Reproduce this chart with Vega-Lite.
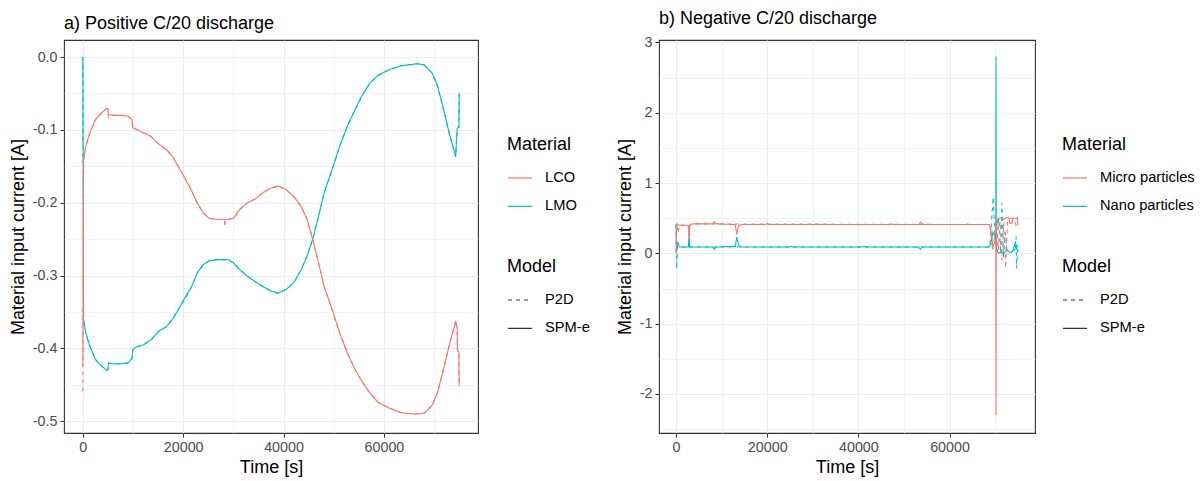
{
  "$schema": "https://vega.github.io/schema/vega-lite/v6.json",
  "background": "white",
  "padding": {"left": 8, "top": 9, "right": 0, "bottom": 0},
  "spacing": 24,
  "config": {
    "font": "Liberation Sans",
    "view": {"stroke": "#333333", "strokeWidth": 1.1},
    "axis": {
      "domain": false,
      "grid": true,
      "gridColor": "#ebebeb",
      "tickColor": "#333333",
      "tickSize": 4,
      "tickWidth": 1,
      "labelColor": "#4d4d4d",
      "labelFontSize": 14.3,
      "labelPadding": 3,
      "titleFontSize": 18,
      "titleFontWeight": "normal",
      "titleColor": "#000000"
    },
    "legend": {
      "orient": "none",
      "padding": 0,
      "titleFontSize": 18,
      "titleFontWeight": "normal",
      "titleColor": "#000000",
      "titlePadding": 11,
      "labelFontSize": 14.7,
      "labelColor": "#000000",
      "labelOffset": 12,
      "symbolType": "stroke",
      "symbolSize": 576,
      "symbolStrokeWidth": 1.2,
      "rowPadding": 8.3
    },
    "title": {"fontSize": 18, "fontWeight": "normal", "color": "#000000", "anchor": "start", "frame": "group", "offset": 7}
  },
  "resolve": {"scale": {"color": "independent", "strokeDash": "independent"}},
  "hconcat": [
    {
      "width": 414,
      "height": 393,
      "title": "a) Positive C/20 discharge",
      "data": {"values": [
        {"Material": "LMO", "Model": "P2D", "Time": 0, "Current": 0.0},
        {"Material": "LMO", "Model": "P2D", "Time": 150, "Current": -0.360},
        {"Material": "LMO", "Model": "P2D", "Time": 600, "Current": -0.379},
        {"Material": "LMO", "Model": "P2D", "Time": 1400, "Current": -0.397},
        {"Material": "LMO", "Model": "P2D", "Time": 2500, "Current": -0.415},
        {"Material": "LMO", "Model": "P2D", "Time": 3700, "Current": -0.424},
        {"Material": "LMO", "Model": "P2D", "Time": 4800, "Current": -0.430},
        {"Material": "LMO", "Model": "P2D", "Time": 5000, "Current": -0.429},
        {"Material": "LMO", "Model": "P2D", "Time": 5100, "Current": -0.420},
        {"Material": "LMO", "Model": "P2D", "Time": 6000, "Current": -0.421},
        {"Material": "LMO", "Model": "P2D", "Time": 7500, "Current": -0.421},
        {"Material": "LMO", "Model": "P2D", "Time": 9000, "Current": -0.420},
        {"Material": "LMO", "Model": "P2D", "Time": 9650, "Current": -0.415},
        {"Material": "LMO", "Model": "P2D", "Time": 9800, "Current": -0.414},
        {"Material": "LMO", "Model": "P2D", "Time": 9950, "Current": -0.402},
        {"Material": "LMO", "Model": "P2D", "Time": 10600, "Current": -0.398},
        {"Material": "LMO", "Model": "P2D", "Time": 12100, "Current": -0.395},
        {"Material": "LMO", "Model": "P2D", "Time": 13600, "Current": -0.388},
        {"Material": "LMO", "Model": "P2D", "Time": 15200, "Current": -0.376},
        {"Material": "LMO", "Model": "P2D", "Time": 16700, "Current": -0.370},
        {"Material": "LMO", "Model": "P2D", "Time": 17850, "Current": -0.360},
        {"Material": "LMO", "Model": "P2D", "Time": 19000, "Current": -0.347},
        {"Material": "LMO", "Model": "P2D", "Time": 20500, "Current": -0.331},
        {"Material": "LMO", "Model": "P2D", "Time": 21700, "Current": -0.315},
        {"Material": "LMO", "Model": "P2D", "Time": 22800, "Current": -0.296},
        {"Material": "LMO", "Model": "P2D", "Time": 24000, "Current": -0.285},
        {"Material": "LMO", "Model": "P2D", "Time": 25100, "Current": -0.280},
        {"Material": "LMO", "Model": "P2D", "Time": 26700, "Current": -0.278},
        {"Material": "LMO", "Model": "P2D", "Time": 29000, "Current": -0.278},
        {"Material": "LMO", "Model": "P2D", "Time": 30100, "Current": -0.283},
        {"Material": "LMO", "Model": "P2D", "Time": 31300, "Current": -0.292},
        {"Material": "LMO", "Model": "P2D", "Time": 32800, "Current": -0.301},
        {"Material": "LMO", "Model": "P2D", "Time": 34300, "Current": -0.308},
        {"Material": "LMO", "Model": "P2D", "Time": 35900, "Current": -0.315},
        {"Material": "LMO", "Model": "P2D", "Time": 37400, "Current": -0.321},
        {"Material": "LMO", "Model": "P2D", "Time": 38900, "Current": -0.324},
        {"Material": "LMO", "Model": "P2D", "Time": 40500, "Current": -0.319},
        {"Material": "LMO", "Model": "P2D", "Time": 42000, "Current": -0.310},
        {"Material": "LMO", "Model": "P2D", "Time": 43500, "Current": -0.292},
        {"Material": "LMO", "Model": "P2D", "Time": 44700, "Current": -0.273},
        {"Material": "LMO", "Model": "P2D", "Time": 45800, "Current": -0.250},
        {"Material": "LMO", "Model": "P2D", "Time": 47000, "Current": -0.218},
        {"Material": "LMO", "Model": "P2D", "Time": 48100, "Current": -0.186},
        {"Material": "LMO", "Model": "P2D", "Time": 49700, "Current": -0.154},
        {"Material": "LMO", "Model": "P2D", "Time": 51200, "Current": -0.122},
        {"Material": "LMO", "Model": "P2D", "Time": 52700, "Current": -0.095},
        {"Material": "LMO", "Model": "P2D", "Time": 54250, "Current": -0.072},
        {"Material": "LMO", "Model": "P2D", "Time": 55800, "Current": -0.051},
        {"Material": "LMO", "Model": "P2D", "Time": 57300, "Current": -0.035},
        {"Material": "LMO", "Model": "P2D", "Time": 58850, "Current": -0.025},
        {"Material": "LMO", "Model": "P2D", "Time": 61150, "Current": -0.017},
        {"Material": "LMO", "Model": "P2D", "Time": 63450, "Current": -0.012},
        {"Material": "LMO", "Model": "P2D", "Time": 65750, "Current": -0.010},
        {"Material": "LMO", "Model": "P2D", "Time": 66600, "Current": -0.009},
        {"Material": "LMO", "Model": "P2D", "Time": 68050, "Current": -0.011},
        {"Material": "LMO", "Model": "P2D", "Time": 69600, "Current": -0.022},
        {"Material": "LMO", "Model": "P2D", "Time": 70700, "Current": -0.040},
        {"Material": "LMO", "Model": "P2D", "Time": 71900, "Current": -0.072},
        {"Material": "LMO", "Model": "P2D", "Time": 73000, "Current": -0.104},
        {"Material": "LMO", "Model": "P2D", "Time": 74200, "Current": -0.134},
        {"Material": "LMO", "Model": "P2D", "Time": 74300, "Current": -0.137},
        {"Material": "LMO", "Model": "P2D", "Time": 74600, "Current": -0.098},
        {"Material": "LMO", "Model": "P2D", "Time": 74950, "Current": -0.096},
        {"Material": "LMO", "Model": "P2D", "Time": 75000, "Current": -0.050},

        {"Material": "LMO", "Model": "SPM-e", "Time": 0, "Current": 0.0},
        {"Material": "LMO", "Model": "SPM-e", "Time": 150, "Current": -0.360},
        {"Material": "LMO", "Model": "SPM-e", "Time": 600, "Current": -0.379},
        {"Material": "LMO", "Model": "SPM-e", "Time": 1400, "Current": -0.397},
        {"Material": "LMO", "Model": "SPM-e", "Time": 2500, "Current": -0.415},
        {"Material": "LMO", "Model": "SPM-e", "Time": 3700, "Current": -0.424},
        {"Material": "LMO", "Model": "SPM-e", "Time": 4800, "Current": -0.430},
        {"Material": "LMO", "Model": "SPM-e", "Time": 5000, "Current": -0.429},
        {"Material": "LMO", "Model": "SPM-e", "Time": 5100, "Current": -0.420},
        {"Material": "LMO", "Model": "SPM-e", "Time": 6000, "Current": -0.421},
        {"Material": "LMO", "Model": "SPM-e", "Time": 7500, "Current": -0.421},
        {"Material": "LMO", "Model": "SPM-e", "Time": 9000, "Current": -0.420},
        {"Material": "LMO", "Model": "SPM-e", "Time": 9650, "Current": -0.415},
        {"Material": "LMO", "Model": "SPM-e", "Time": 9800, "Current": -0.414},
        {"Material": "LMO", "Model": "SPM-e", "Time": 9950, "Current": -0.402},
        {"Material": "LMO", "Model": "SPM-e", "Time": 10600, "Current": -0.398},
        {"Material": "LMO", "Model": "SPM-e", "Time": 12100, "Current": -0.395},
        {"Material": "LMO", "Model": "SPM-e", "Time": 13600, "Current": -0.388},
        {"Material": "LMO", "Model": "SPM-e", "Time": 15200, "Current": -0.376},
        {"Material": "LMO", "Model": "SPM-e", "Time": 16700, "Current": -0.370},
        {"Material": "LMO", "Model": "SPM-e", "Time": 17850, "Current": -0.360},
        {"Material": "LMO", "Model": "SPM-e", "Time": 19000, "Current": -0.347},
        {"Material": "LMO", "Model": "SPM-e", "Time": 20500, "Current": -0.328},
        {"Material": "LMO", "Model": "SPM-e", "Time": 21700, "Current": -0.315},
        {"Material": "LMO", "Model": "SPM-e", "Time": 22800, "Current": -0.296},
        {"Material": "LMO", "Model": "SPM-e", "Time": 24000, "Current": -0.285},
        {"Material": "LMO", "Model": "SPM-e", "Time": 25100, "Current": -0.280},
        {"Material": "LMO", "Model": "SPM-e", "Time": 26700, "Current": -0.278},
        {"Material": "LMO", "Model": "SPM-e", "Time": 29000, "Current": -0.278},
        {"Material": "LMO", "Model": "SPM-e", "Time": 30100, "Current": -0.283},
        {"Material": "LMO", "Model": "SPM-e", "Time": 31300, "Current": -0.292},
        {"Material": "LMO", "Model": "SPM-e", "Time": 32800, "Current": -0.301},
        {"Material": "LMO", "Model": "SPM-e", "Time": 34300, "Current": -0.308},
        {"Material": "LMO", "Model": "SPM-e", "Time": 35900, "Current": -0.315},
        {"Material": "LMO", "Model": "SPM-e", "Time": 37400, "Current": -0.321},
        {"Material": "LMO", "Model": "SPM-e", "Time": 38900, "Current": -0.324},
        {"Material": "LMO", "Model": "SPM-e", "Time": 40500, "Current": -0.319},
        {"Material": "LMO", "Model": "SPM-e", "Time": 42000, "Current": -0.310},
        {"Material": "LMO", "Model": "SPM-e", "Time": 43500, "Current": -0.292},
        {"Material": "LMO", "Model": "SPM-e", "Time": 44700, "Current": -0.273},
        {"Material": "LMO", "Model": "SPM-e", "Time": 45800, "Current": -0.250},
        {"Material": "LMO", "Model": "SPM-e", "Time": 47000, "Current": -0.218},
        {"Material": "LMO", "Model": "SPM-e", "Time": 48100, "Current": -0.186},
        {"Material": "LMO", "Model": "SPM-e", "Time": 49700, "Current": -0.154},
        {"Material": "LMO", "Model": "SPM-e", "Time": 51200, "Current": -0.122},
        {"Material": "LMO", "Model": "SPM-e", "Time": 52700, "Current": -0.095},
        {"Material": "LMO", "Model": "SPM-e", "Time": 54250, "Current": -0.072},
        {"Material": "LMO", "Model": "SPM-e", "Time": 55800, "Current": -0.051},
        {"Material": "LMO", "Model": "SPM-e", "Time": 57300, "Current": -0.035},
        {"Material": "LMO", "Model": "SPM-e", "Time": 58850, "Current": -0.025},
        {"Material": "LMO", "Model": "SPM-e", "Time": 61150, "Current": -0.017},
        {"Material": "LMO", "Model": "SPM-e", "Time": 63450, "Current": -0.012},
        {"Material": "LMO", "Model": "SPM-e", "Time": 65750, "Current": -0.010},
        {"Material": "LMO", "Model": "SPM-e", "Time": 66600, "Current": -0.009},
        {"Material": "LMO", "Model": "SPM-e", "Time": 68050, "Current": -0.011},
        {"Material": "LMO", "Model": "SPM-e", "Time": 69600, "Current": -0.022},
        {"Material": "LMO", "Model": "SPM-e", "Time": 70700, "Current": -0.040},
        {"Material": "LMO", "Model": "SPM-e", "Time": 71900, "Current": -0.072},
        {"Material": "LMO", "Model": "SPM-e", "Time": 73000, "Current": -0.104},
        {"Material": "LMO", "Model": "SPM-e", "Time": 74200, "Current": -0.134},
        {"Material": "LMO", "Model": "SPM-e", "Time": 74300, "Current": -0.137},
        {"Material": "LMO", "Model": "SPM-e", "Time": 74600, "Current": -0.098},
        {"Material": "LMO", "Model": "SPM-e", "Time": 74950, "Current": -0.096},
        {"Material": "LMO", "Model": "SPM-e", "Time": 75000, "Current": -0.050},

        {"Material": "LCO", "Model": "P2D", "Time": 0, "Current": -0.459},
        {"Material": "LCO", "Model": "P2D", "Time": 150, "Current": -0.141},
        {"Material": "LCO", "Model": "P2D", "Time": 600, "Current": -0.122},
        {"Material": "LCO", "Model": "P2D", "Time": 1400, "Current": -0.104},
        {"Material": "LCO", "Model": "P2D", "Time": 2500, "Current": -0.086},
        {"Material": "LCO", "Model": "P2D", "Time": 3700, "Current": -0.077},
        {"Material": "LCO", "Model": "P2D", "Time": 4600, "Current": -0.071},
        {"Material": "LCO", "Model": "P2D", "Time": 5000, "Current": -0.071},
        {"Material": "LCO", "Model": "P2D", "Time": 5100, "Current": -0.083},
        {"Material": "LCO", "Model": "P2D", "Time": 6000, "Current": -0.080},
        {"Material": "LCO", "Model": "P2D", "Time": 7500, "Current": -0.080},
        {"Material": "LCO", "Model": "P2D", "Time": 9000, "Current": -0.081},
        {"Material": "LCO", "Model": "P2D", "Time": 9650, "Current": -0.085},
        {"Material": "LCO", "Model": "P2D", "Time": 9800, "Current": -0.086},
        {"Material": "LCO", "Model": "P2D", "Time": 9950, "Current": -0.097},
        {"Material": "LCO", "Model": "P2D", "Time": 10600, "Current": -0.099},
        {"Material": "LCO", "Model": "P2D", "Time": 12100, "Current": -0.104},
        {"Material": "LCO", "Model": "P2D", "Time": 13600, "Current": -0.109},
        {"Material": "LCO", "Model": "P2D", "Time": 15200, "Current": -0.120},
        {"Material": "LCO", "Model": "P2D", "Time": 16700, "Current": -0.127},
        {"Material": "LCO", "Model": "P2D", "Time": 17850, "Current": -0.136},
        {"Material": "LCO", "Model": "P2D", "Time": 19000, "Current": -0.150},
        {"Material": "LCO", "Model": "P2D", "Time": 20500, "Current": -0.168},
        {"Material": "LCO", "Model": "P2D", "Time": 21700, "Current": -0.184},
        {"Material": "LCO", "Model": "P2D", "Time": 22800, "Current": -0.200},
        {"Material": "LCO", "Model": "P2D", "Time": 24000, "Current": -0.214},
        {"Material": "LCO", "Model": "P2D", "Time": 25100, "Current": -0.221},
        {"Material": "LCO", "Model": "P2D", "Time": 26700, "Current": -0.223},
        {"Material": "LCO", "Model": "P2D", "Time": 28200, "Current": -0.223},
        {"Material": "LCO", "Model": "P2D", "Time": 28300, "Current": -0.233},
        {"Material": "LCO", "Model": "P2D", "Time": 28400, "Current": -0.223},
        {"Material": "LCO", "Model": "P2D", "Time": 29000, "Current": -0.223},
        {"Material": "LCO", "Model": "P2D", "Time": 30100, "Current": -0.221},
        {"Material": "LCO", "Model": "P2D", "Time": 31300, "Current": -0.209},
        {"Material": "LCO", "Model": "P2D", "Time": 32800, "Current": -0.200},
        {"Material": "LCO", "Model": "P2D", "Time": 34300, "Current": -0.195},
        {"Material": "LCO", "Model": "P2D", "Time": 35900, "Current": -0.186},
        {"Material": "LCO", "Model": "P2D", "Time": 37400, "Current": -0.180},
        {"Material": "LCO", "Model": "P2D", "Time": 38900, "Current": -0.177},
        {"Material": "LCO", "Model": "P2D", "Time": 40500, "Current": -0.182},
        {"Material": "LCO", "Model": "P2D", "Time": 42000, "Current": -0.191},
        {"Material": "LCO", "Model": "P2D", "Time": 43500, "Current": -0.205},
        {"Material": "LCO", "Model": "P2D", "Time": 44700, "Current": -0.223},
        {"Material": "LCO", "Model": "P2D", "Time": 45800, "Current": -0.250},
        {"Material": "LCO", "Model": "P2D", "Time": 47000, "Current": -0.283},
        {"Material": "LCO", "Model": "P2D", "Time": 48100, "Current": -0.315},
        {"Material": "LCO", "Model": "P2D", "Time": 49700, "Current": -0.347},
        {"Material": "LCO", "Model": "P2D", "Time": 51200, "Current": -0.379},
        {"Material": "LCO", "Model": "P2D", "Time": 52700, "Current": -0.406},
        {"Material": "LCO", "Model": "P2D", "Time": 54250, "Current": -0.429},
        {"Material": "LCO", "Model": "P2D", "Time": 55800, "Current": -0.447},
        {"Material": "LCO", "Model": "P2D", "Time": 57300, "Current": -0.462},
        {"Material": "LCO", "Model": "P2D", "Time": 58850, "Current": -0.474},
        {"Material": "LCO", "Model": "P2D", "Time": 61150, "Current": -0.482},
        {"Material": "LCO", "Model": "P2D", "Time": 63450, "Current": -0.488},
        {"Material": "LCO", "Model": "P2D", "Time": 65750, "Current": -0.490},
        {"Material": "LCO", "Model": "P2D", "Time": 68050, "Current": -0.489},
        {"Material": "LCO", "Model": "P2D", "Time": 69600, "Current": -0.478},
        {"Material": "LCO", "Model": "P2D", "Time": 70700, "Current": -0.460},
        {"Material": "LCO", "Model": "P2D", "Time": 71900, "Current": -0.428},
        {"Material": "LCO", "Model": "P2D", "Time": 73000, "Current": -0.396},
        {"Material": "LCO", "Model": "P2D", "Time": 74200, "Current": -0.366},
        {"Material": "LCO", "Model": "P2D", "Time": 74300, "Current": -0.362},
        {"Material": "LCO", "Model": "P2D", "Time": 74600, "Current": -0.372},
        {"Material": "LCO", "Model": "P2D", "Time": 74650, "Current": -0.402},
        {"Material": "LCO", "Model": "P2D", "Time": 74950, "Current": -0.405},
        {"Material": "LCO", "Model": "P2D", "Time": 75000, "Current": -0.452},

        {"Material": "LCO", "Model": "SPM-e", "Time": 0, "Current": -0.424},
        {"Material": "LCO", "Model": "SPM-e", "Time": 150, "Current": -0.141},
        {"Material": "LCO", "Model": "SPM-e", "Time": 600, "Current": -0.122},
        {"Material": "LCO", "Model": "SPM-e", "Time": 1400, "Current": -0.104},
        {"Material": "LCO", "Model": "SPM-e", "Time": 2500, "Current": -0.086},
        {"Material": "LCO", "Model": "SPM-e", "Time": 3700, "Current": -0.077},
        {"Material": "LCO", "Model": "SPM-e", "Time": 4600, "Current": -0.071},
        {"Material": "LCO", "Model": "SPM-e", "Time": 5000, "Current": -0.071},
        {"Material": "LCO", "Model": "SPM-e", "Time": 5100, "Current": -0.079},
        {"Material": "LCO", "Model": "SPM-e", "Time": 6000, "Current": -0.080},
        {"Material": "LCO", "Model": "SPM-e", "Time": 7500, "Current": -0.080},
        {"Material": "LCO", "Model": "SPM-e", "Time": 9000, "Current": -0.081},
        {"Material": "LCO", "Model": "SPM-e", "Time": 9650, "Current": -0.085},
        {"Material": "LCO", "Model": "SPM-e", "Time": 9800, "Current": -0.086},
        {"Material": "LCO", "Model": "SPM-e", "Time": 9950, "Current": -0.097},
        {"Material": "LCO", "Model": "SPM-e", "Time": 10600, "Current": -0.099},
        {"Material": "LCO", "Model": "SPM-e", "Time": 12100, "Current": -0.104},
        {"Material": "LCO", "Model": "SPM-e", "Time": 13600, "Current": -0.109},
        {"Material": "LCO", "Model": "SPM-e", "Time": 15200, "Current": -0.120},
        {"Material": "LCO", "Model": "SPM-e", "Time": 16700, "Current": -0.127},
        {"Material": "LCO", "Model": "SPM-e", "Time": 17850, "Current": -0.136},
        {"Material": "LCO", "Model": "SPM-e", "Time": 19000, "Current": -0.150},
        {"Material": "LCO", "Model": "SPM-e", "Time": 20500, "Current": -0.168},
        {"Material": "LCO", "Model": "SPM-e", "Time": 21700, "Current": -0.184},
        {"Material": "LCO", "Model": "SPM-e", "Time": 22800, "Current": -0.200},
        {"Material": "LCO", "Model": "SPM-e", "Time": 24000, "Current": -0.214},
        {"Material": "LCO", "Model": "SPM-e", "Time": 25100, "Current": -0.221},
        {"Material": "LCO", "Model": "SPM-e", "Time": 26700, "Current": -0.223},
        {"Material": "LCO", "Model": "SPM-e", "Time": 29000, "Current": -0.223},
        {"Material": "LCO", "Model": "SPM-e", "Time": 30100, "Current": -0.221},
        {"Material": "LCO", "Model": "SPM-e", "Time": 31300, "Current": -0.209},
        {"Material": "LCO", "Model": "SPM-e", "Time": 32800, "Current": -0.200},
        {"Material": "LCO", "Model": "SPM-e", "Time": 34300, "Current": -0.195},
        {"Material": "LCO", "Model": "SPM-e", "Time": 35900, "Current": -0.186},
        {"Material": "LCO", "Model": "SPM-e", "Time": 37400, "Current": -0.180},
        {"Material": "LCO", "Model": "SPM-e", "Time": 38900, "Current": -0.177},
        {"Material": "LCO", "Model": "SPM-e", "Time": 40500, "Current": -0.182},
        {"Material": "LCO", "Model": "SPM-e", "Time": 42000, "Current": -0.191},
        {"Material": "LCO", "Model": "SPM-e", "Time": 43500, "Current": -0.205},
        {"Material": "LCO", "Model": "SPM-e", "Time": 44700, "Current": -0.223},
        {"Material": "LCO", "Model": "SPM-e", "Time": 45800, "Current": -0.250},
        {"Material": "LCO", "Model": "SPM-e", "Time": 47000, "Current": -0.283},
        {"Material": "LCO", "Model": "SPM-e", "Time": 48100, "Current": -0.315},
        {"Material": "LCO", "Model": "SPM-e", "Time": 49700, "Current": -0.347},
        {"Material": "LCO", "Model": "SPM-e", "Time": 51200, "Current": -0.379},
        {"Material": "LCO", "Model": "SPM-e", "Time": 52700, "Current": -0.406},
        {"Material": "LCO", "Model": "SPM-e", "Time": 54250, "Current": -0.429},
        {"Material": "LCO", "Model": "SPM-e", "Time": 55800, "Current": -0.447},
        {"Material": "LCO", "Model": "SPM-e", "Time": 57300, "Current": -0.462},
        {"Material": "LCO", "Model": "SPM-e", "Time": 58850, "Current": -0.474},
        {"Material": "LCO", "Model": "SPM-e", "Time": 61150, "Current": -0.482},
        {"Material": "LCO", "Model": "SPM-e", "Time": 63450, "Current": -0.488},
        {"Material": "LCO", "Model": "SPM-e", "Time": 65750, "Current": -0.490},
        {"Material": "LCO", "Model": "SPM-e", "Time": 68050, "Current": -0.489},
        {"Material": "LCO", "Model": "SPM-e", "Time": 69600, "Current": -0.478},
        {"Material": "LCO", "Model": "SPM-e", "Time": 70700, "Current": -0.460},
        {"Material": "LCO", "Model": "SPM-e", "Time": 71900, "Current": -0.428},
        {"Material": "LCO", "Model": "SPM-e", "Time": 73000, "Current": -0.396},
        {"Material": "LCO", "Model": "SPM-e", "Time": 74200, "Current": -0.366},
        {"Material": "LCO", "Model": "SPM-e", "Time": 74300, "Current": -0.362},
        {"Material": "LCO", "Model": "SPM-e", "Time": 74600, "Current": -0.372},
        {"Material": "LCO", "Model": "SPM-e", "Time": 74650, "Current": -0.402},
        {"Material": "LCO", "Model": "SPM-e", "Time": 74950, "Current": -0.405},
        {"Material": "LCO", "Model": "SPM-e", "Time": 75000, "Current": -0.452}
      ]},
      "mark": {"type": "line", "strokeWidth": 1.1, "clip": true},
      "encoding": {
        "x": {
          "field": "Time", "type": "quantitative", "title": "Time [s]",
          "scale": {"domain": [-3750, 78750], "nice": false, "zero": false},
          "axis": {
            "values": [0, 10000, 20000, 30000, 40000, 50000, 60000, 70000],
            "labelExpr": "datum.value % 20000 != 0 ? '' : format(datum.value, 'd')",
            "gridWidth": {"condition": {"test": "datum.value % 20000 != 0", "value": 0.6}, "value": 1.1},
            "tickOpacity": {"condition": {"test": "datum.value % 20000 != 0", "value": 0}, "value": 1},
            "titlePadding": 4
          }
        },
        "y": {
          "field": "Current", "type": "quantitative", "title": "Material input current [A]",
          "scale": {"domain": [-0.516, 0.0234], "nice": false, "zero": false},
          "axis": {
            "values": [-0.5, -0.45, -0.4, -0.35, -0.3, -0.25, -0.2, -0.15, -0.1, -0.05, 0],
            "labelExpr": "abs(datum.value * 10 - round(datum.value * 10)) > 0.01 ? '' : replace(format(datum.value, '.1f'), '\u2212', '-')",
            "gridWidth": {"condition": {"test": "abs(datum.value * 10 - round(datum.value * 10)) > 0.01", "value": 0.6}, "value": 1.1},
            "tickOpacity": {"condition": {"test": "abs(datum.value * 10 - round(datum.value * 10)) > 0.01", "value": 0}, "value": 1},
            "titlePadding": 5
          }
        },
        "color": {
          "field": "Material", "type": "nominal",
          "scale": {"domain": ["LCO", "LMO"], "range": ["#F8766D", "#00BFC4"]},
          "legend": {"title": "Material", "legendX": 443, "legendY": 96}
        },
        "strokeDash": {
          "field": "Model", "type": "nominal",
          "scale": {"domain": ["P2D", "SPM-e"], "range": [[4, 4], [1, 0]]},
          "legend": {"title": "Model", "legendX": 443, "legendY": 218, "symbolStrokeColor": "#333333"}
        }
      }
    },
    {
      "width": 376,
      "height": 393,
      "title": "b) Negative C/20 discharge",
      "data": {"values": [
        {"Material": "Nano particles", "Model": "P2D", "Time": 0, "Current": 0.42},
        {"Material": "Nano particles", "Model": "P2D", "Time": 150, "Current": -0.22},
        {"Material": "Nano particles", "Model": "P2D", "Time": 300, "Current": 0.10},
        {"Material": "Nano particles", "Model": "P2D", "Time": 700, "Current": 0.09},
        {"Material": "Nano particles", "Model": "P2D", "Time": 2700, "Current": 0.09},
        {"Material": "Nano particles", "Model": "P2D", "Time": 2850, "Current": 0.22},
        {"Material": "Nano particles", "Model": "P2D", "Time": 3000, "Current": 0.09},
        {"Material": "Nano particles", "Model": "P2D", "Time": 68700, "Current": 0.09},
        {"Material": "Nano particles", "Model": "P2D", "Time": 69000, "Current": 0.20},
        {"Material": "Nano particles", "Model": "P2D", "Time": 69300, "Current": 0.55},
        {"Material": "Nano particles", "Model": "P2D", "Time": 69600, "Current": 0.80},
        {"Material": "Nano particles", "Model": "P2D", "Time": 69900, "Current": 0.30},
        {"Material": "Nano particles", "Model": "P2D", "Time": 70400, "Current": 0.10},
        {"Material": "Nano particles", "Model": "P2D", "Time": 70800, "Current": 0.50},
        {"Material": "Nano particles", "Model": "P2D", "Time": 71200, "Current": 0.00},
        {"Material": "Nano particles", "Model": "P2D", "Time": 71500, "Current": 0.72},
        {"Material": "Nano particles", "Model": "P2D", "Time": 71800, "Current": -0.05},
        {"Material": "Nano particles", "Model": "P2D", "Time": 72200, "Current": 0.30},
        {"Material": "Nano particles", "Model": "P2D", "Time": 72600, "Current": 0.05},
        {"Material": "Nano particles", "Model": "P2D", "Time": 73500, "Current": 0.02},
        {"Material": "Nano particles", "Model": "P2D", "Time": 74300, "Current": 0.05},
        {"Material": "Nano particles", "Model": "P2D", "Time": 74600, "Current": 0.24},
        {"Material": "Nano particles", "Model": "P2D", "Time": 74700, "Current": -0.21},
        {"Material": "Nano particles", "Model": "P2D", "Time": 75000, "Current": 0.10},

        {"Material": "Nano particles", "Model": "SPM-e", "Time": 0, "Current": 0.40},
        {"Material": "Nano particles", "Model": "SPM-e", "Time": 100, "Current": 0.08},
        {"Material": "Nano particles", "Model": "SPM-e", "Time": 400, "Current": 0.16},
        {"Material": "Nano particles", "Model": "SPM-e", "Time": 700, "Current": 0.09},
        {"Material": "Nano particles", "Model": "SPM-e", "Time": 2700, "Current": 0.09},
        {"Material": "Nano particles", "Model": "SPM-e", "Time": 2850, "Current": 0.22},
        {"Material": "Nano particles", "Model": "SPM-e", "Time": 3000, "Current": 0.09},
        {"Material": "Nano particles", "Model": "SPM-e", "Time": 8000, "Current": 0.09},
        {"Material": "Nano particles", "Model": "SPM-e", "Time": 8400, "Current": 0.055},
        {"Material": "Nano particles", "Model": "SPM-e", "Time": 8800, "Current": 0.09},
        {"Material": "Nano particles", "Model": "SPM-e", "Time": 13000, "Current": 0.10},
        {"Material": "Nano particles", "Model": "SPM-e", "Time": 13300, "Current": 0.23},
        {"Material": "Nano particles", "Model": "SPM-e", "Time": 13700, "Current": 0.12},
        {"Material": "Nano particles", "Model": "SPM-e", "Time": 14300, "Current": 0.09},
        {"Material": "Nano particles", "Model": "SPM-e", "Time": 25000, "Current": 0.09},
        {"Material": "Nano particles", "Model": "SPM-e", "Time": 25300, "Current": 0.10},
        {"Material": "Nano particles", "Model": "SPM-e", "Time": 25600, "Current": 0.09},
        {"Material": "Nano particles", "Model": "SPM-e", "Time": 41000, "Current": 0.09},
        {"Material": "Nano particles", "Model": "SPM-e", "Time": 41300, "Current": 0.10},
        {"Material": "Nano particles", "Model": "SPM-e", "Time": 41600, "Current": 0.09},
        {"Material": "Nano particles", "Model": "SPM-e", "Time": 53000, "Current": 0.09},
        {"Material": "Nano particles", "Model": "SPM-e", "Time": 53300, "Current": 0.085},
        {"Material": "Nano particles", "Model": "SPM-e", "Time": 53600, "Current": 0.055},
        {"Material": "Nano particles", "Model": "SPM-e", "Time": 54000, "Current": 0.09},
        {"Material": "Nano particles", "Model": "SPM-e", "Time": 68700, "Current": 0.09},
        {"Material": "Nano particles", "Model": "SPM-e", "Time": 69100, "Current": 0.15},
        {"Material": "Nano particles", "Model": "SPM-e", "Time": 69500, "Current": 0.30},
        {"Material": "Nano particles", "Model": "SPM-e", "Time": 69900, "Current": 0.25},
        {"Material": "Nano particles", "Model": "SPM-e", "Time": 70150, "Current": 0.20},
        {"Material": "Nano particles", "Model": "SPM-e", "Time": 70200, "Current": 2.80},
        {"Material": "Nano particles", "Model": "SPM-e", "Time": 70250, "Current": 0.10},
        {"Material": "Nano particles", "Model": "SPM-e", "Time": 70600, "Current": 0.01},
        {"Material": "Nano particles", "Model": "SPM-e", "Time": 72000, "Current": 0.01},
        {"Material": "Nano particles", "Model": "SPM-e", "Time": 72500, "Current": 0.04},
        {"Material": "Nano particles", "Model": "SPM-e", "Time": 73500, "Current": 0.01},
        {"Material": "Nano particles", "Model": "SPM-e", "Time": 74000, "Current": 0.05},
        {"Material": "Nano particles", "Model": "SPM-e", "Time": 74300, "Current": 0.14},
        {"Material": "Nano particles", "Model": "SPM-e", "Time": 74600, "Current": 0.06},
        {"Material": "Nano particles", "Model": "SPM-e", "Time": 75000, "Current": 0.12},

        {"Material": "Micro particles", "Model": "P2D", "Time": 0, "Current": 0.0},
        {"Material": "Micro particles", "Model": "P2D", "Time": 150, "Current": 0.42},
        {"Material": "Micro particles", "Model": "P2D", "Time": 400, "Current": 0.29},
        {"Material": "Micro particles", "Model": "P2D", "Time": 800, "Current": 0.40},
        {"Material": "Micro particles", "Model": "P2D", "Time": 2700, "Current": 0.40},
        {"Material": "Micro particles", "Model": "P2D", "Time": 2850, "Current": 0.21},
        {"Material": "Micro particles", "Model": "P2D", "Time": 3000, "Current": 0.40},
        {"Material": "Micro particles", "Model": "P2D", "Time": 3500, "Current": 0.42},
        {"Material": "Micro particles", "Model": "P2D", "Time": 68700, "Current": 0.41},
        {"Material": "Micro particles", "Model": "P2D", "Time": 69000, "Current": 0.35},
        {"Material": "Micro particles", "Model": "P2D", "Time": 69400, "Current": 0.05},
        {"Material": "Micro particles", "Model": "P2D", "Time": 69800, "Current": 0.20},
        {"Material": "Micro particles", "Model": "P2D", "Time": 70300, "Current": 0.45},
        {"Material": "Micro particles", "Model": "P2D", "Time": 70700, "Current": 0.05},
        {"Material": "Micro particles", "Model": "P2D", "Time": 71100, "Current": 0.45},
        {"Material": "Micro particles", "Model": "P2D", "Time": 71500, "Current": -0.10},
        {"Material": "Micro particles", "Model": "P2D", "Time": 71900, "Current": 0.43},
        {"Material": "Micro particles", "Model": "P2D", "Time": 72300, "Current": -0.21},
        {"Material": "Micro particles", "Model": "P2D", "Time": 72700, "Current": 0.45},
        {"Material": "Micro particles", "Model": "P2D", "Time": 73200, "Current": 0.50},
        {"Material": "Micro particles", "Model": "P2D", "Time": 74000, "Current": 0.50},
        {"Material": "Micro particles", "Model": "P2D", "Time": 74600, "Current": 0.40},
        {"Material": "Micro particles", "Model": "P2D", "Time": 75000, "Current": 0.45},

        {"Material": "Micro particles", "Model": "SPM-e", "Time": 0, "Current": 0.0},
        {"Material": "Micro particles", "Model": "SPM-e", "Time": 100, "Current": 0.42},
        {"Material": "Micro particles", "Model": "SPM-e", "Time": 600, "Current": 0.40},
        {"Material": "Micro particles", "Model": "SPM-e", "Time": 2700, "Current": 0.40},
        {"Material": "Micro particles", "Model": "SPM-e", "Time": 2850, "Current": 0.21},
        {"Material": "Micro particles", "Model": "SPM-e", "Time": 3000, "Current": 0.40},
        {"Material": "Micro particles", "Model": "SPM-e", "Time": 3500, "Current": 0.42},
        {"Material": "Micro particles", "Model": "SPM-e", "Time": 8000, "Current": 0.42},
        {"Material": "Micro particles", "Model": "SPM-e", "Time": 8400, "Current": 0.445},
        {"Material": "Micro particles", "Model": "SPM-e", "Time": 8800, "Current": 0.42},
        {"Material": "Micro particles", "Model": "SPM-e", "Time": 13000, "Current": 0.41},
        {"Material": "Micro particles", "Model": "SPM-e", "Time": 13300, "Current": 0.27},
        {"Material": "Micro particles", "Model": "SPM-e", "Time": 13700, "Current": 0.39},
        {"Material": "Micro particles", "Model": "SPM-e", "Time": 14300, "Current": 0.41},
        {"Material": "Micro particles", "Model": "SPM-e", "Time": 19700, "Current": 0.41},
        {"Material": "Micro particles", "Model": "SPM-e", "Time": 20000, "Current": 0.425},
        {"Material": "Micro particles", "Model": "SPM-e", "Time": 20300, "Current": 0.41},
        {"Material": "Micro particles", "Model": "SPM-e", "Time": 30400, "Current": 0.41},
        {"Material": "Micro particles", "Model": "SPM-e", "Time": 30700, "Current": 0.42},
        {"Material": "Micro particles", "Model": "SPM-e", "Time": 31000, "Current": 0.41},
        {"Material": "Micro particles", "Model": "SPM-e", "Time": 47000, "Current": 0.41},
        {"Material": "Micro particles", "Model": "SPM-e", "Time": 47300, "Current": 0.42},
        {"Material": "Micro particles", "Model": "SPM-e", "Time": 47600, "Current": 0.41},
        {"Material": "Micro particles", "Model": "SPM-e", "Time": 53300, "Current": 0.41},
        {"Material": "Micro particles", "Model": "SPM-e", "Time": 53600, "Current": 0.445},
        {"Material": "Micro particles", "Model": "SPM-e", "Time": 54000, "Current": 0.42},
        {"Material": "Micro particles", "Model": "SPM-e", "Time": 54400, "Current": 0.41},
        {"Material": "Micro particles", "Model": "SPM-e", "Time": 63700, "Current": 0.41},
        {"Material": "Micro particles", "Model": "SPM-e", "Time": 64000, "Current": 0.42},
        {"Material": "Micro particles", "Model": "SPM-e", "Time": 64300, "Current": 0.41},
        {"Material": "Micro particles", "Model": "SPM-e", "Time": 68700, "Current": 0.41},
        {"Material": "Micro particles", "Model": "SPM-e", "Time": 69100, "Current": 0.32},
        {"Material": "Micro particles", "Model": "SPM-e", "Time": 69500, "Current": 0.10},
        {"Material": "Micro particles", "Model": "SPM-e", "Time": 69900, "Current": 0.15},
        {"Material": "Micro particles", "Model": "SPM-e", "Time": 70150, "Current": 0.20},
        {"Material": "Micro particles", "Model": "SPM-e", "Time": 70200, "Current": -2.30},
        {"Material": "Micro particles", "Model": "SPM-e", "Time": 70250, "Current": 0.30},
        {"Material": "Micro particles", "Model": "SPM-e", "Time": 70600, "Current": 0.50},
        {"Material": "Micro particles", "Model": "SPM-e", "Time": 71500, "Current": 0.50},
        {"Material": "Micro particles", "Model": "SPM-e", "Time": 72000, "Current": 0.48},
        {"Material": "Micro particles", "Model": "SPM-e", "Time": 72400, "Current": 0.51},
        {"Material": "Micro particles", "Model": "SPM-e", "Time": 73000, "Current": 0.51},
        {"Material": "Micro particles", "Model": "SPM-e", "Time": 73200, "Current": 0.43},
        {"Material": "Micro particles", "Model": "SPM-e", "Time": 73700, "Current": 0.43},
        {"Material": "Micro particles", "Model": "SPM-e", "Time": 73900, "Current": 0.50},
        {"Material": "Micro particles", "Model": "SPM-e", "Time": 74800, "Current": 0.50},
        {"Material": "Micro particles", "Model": "SPM-e", "Time": 74900, "Current": 0.52},
        {"Material": "Micro particles", "Model": "SPM-e", "Time": 75000, "Current": 0.40}
      ]},
      "mark": {"type": "line", "strokeWidth": 1.1, "clip": true},
      "encoding": {
        "x": {
          "field": "Time", "type": "quantitative", "title": "Time [s]",
          "scale": {"domain": [-3750, 78750], "nice": false, "zero": false},
          "axis": {
            "values": [0, 10000, 20000, 30000, 40000, 50000, 60000, 70000],
            "labelExpr": "datum.value % 20000 != 0 ? '' : format(datum.value, 'd')",
            "gridWidth": {"condition": {"test": "datum.value % 20000 != 0", "value": 0.6}, "value": 1.1},
            "tickOpacity": {"condition": {"test": "datum.value % 20000 != 0", "value": 0}, "value": 1},
            "titlePadding": 4
          }
        },
        "y": {
          "field": "Current", "type": "quantitative", "title": "Material input current [A]",
          "scale": {"domain": [-2.555, 3.035], "nice": false, "zero": false},
          "axis": {
            "values": [-2.5, -2, -1.5, -1, -0.5, 0, 0.5, 1, 1.5, 2, 2.5, 3],
            "labelExpr": "datum.value % 1 != 0 ? '' : replace(format(datum.value, 'd'), '\u2212', '-')",
            "gridWidth": {"condition": {"test": "datum.value % 1 != 0", "value": 0.6}, "value": 1.1},
            "tickOpacity": {"condition": {"test": "datum.value % 1 != 0", "value": 0}, "value": 1},
            "titlePadding": 5
          }
        },
        "color": {
          "field": "Material", "type": "nominal",
          "scale": {"domain": ["Micro particles", "Nano particles"], "range": ["#F8766D", "#00BFC4"]},
          "legend": {"title": "Material", "legendX": 403, "legendY": 96}
        },
        "strokeDash": {
          "field": "Model", "type": "nominal",
          "scale": {"domain": ["P2D", "SPM-e"], "range": [[4, 4], [1, 0]]},
          "legend": {"title": "Model", "legendX": 403, "legendY": 218, "symbolStrokeColor": "#333333"}
        }
      }
    }
  ]
}
